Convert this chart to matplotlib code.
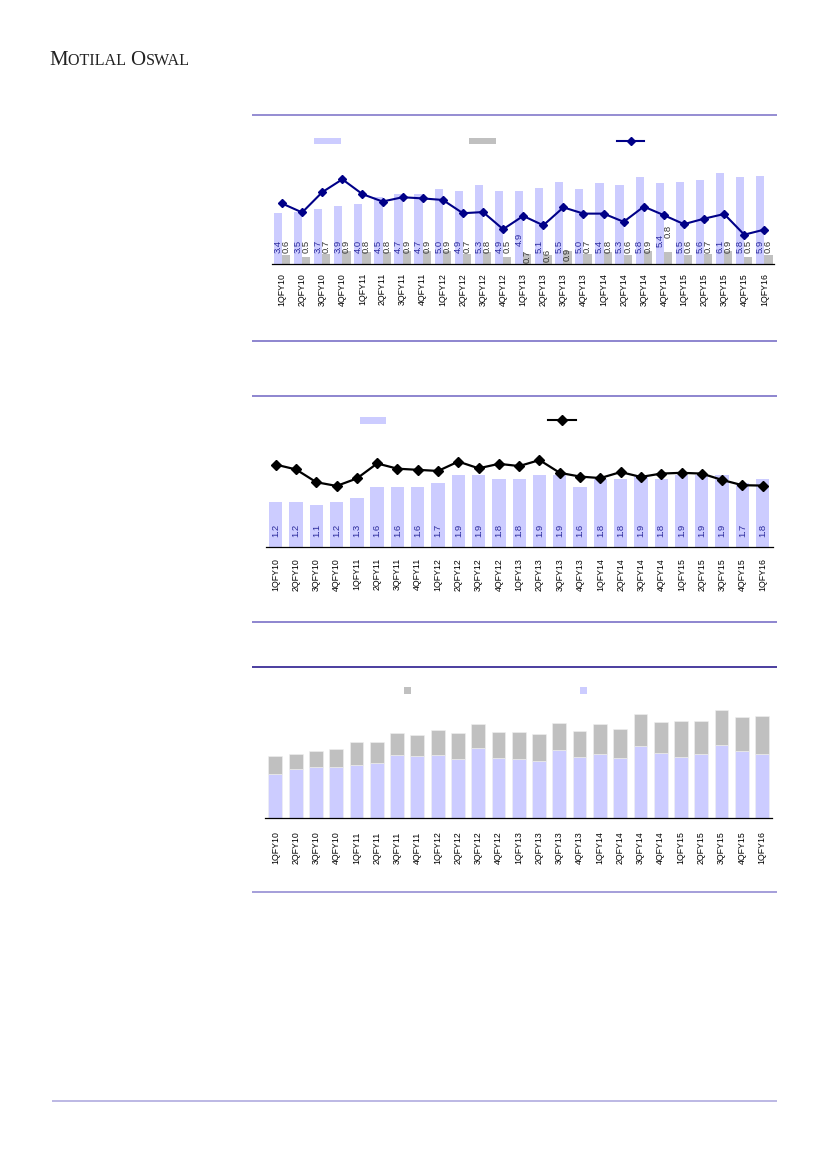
import matplotlib
matplotlib.use("Agg")
import matplotlib.pyplot as plt
from matplotlib.lines import Line2D
from matplotlib.patches import Rectangle

plt.rcParams['font.family'] = ['Liberation Sans', 'DejaVu Sans']

# ---------------------------------------------------------------- datos
trimestres = ['1QFY10', '2QFY10', '3QFY10', '4QFY10', '1QFY11', '2QFY11', '3QFY11',
              '4QFY11', '1QFY12', '2QFY12', '3QFY12', '4QFY12', '1QFY13', '2QFY13',
              '3QFY13', '4QFY13', '1QFY14', '2QFY14', '3QFY14', '4QFY14', '1QFY15',
              '2QFY15', '3QFY15', '4QFY15', '1QFY16']

# grafico 1: barras azules, barras grises y linea (%)
ventas = [3.4, 3.5, 3.7, 3.9, 4.0, 4.5, 4.7, 4.7, 5.0, 4.9, 5.3, 4.9, 4.9,
          5.1, 5.5, 5.0, 5.4, 5.3, 5.8, 5.4, 5.5, 5.6, 6.1, 5.8, 5.9]
ebitda = [0.6, 0.5, 0.7, 0.9, 0.8, 0.8, 0.9, 0.9, 0.9, 0.7, 0.8, 0.5, 0.7,
          0.6, 0.9, 0.7, 0.8, 0.6, 0.9, 0.8, 0.6, 0.7, 0.9, 0.5, 0.6]
margen = [16.8, 14.5, 19.7, 23.0, 19.2, 17.3, 18.4, 18.1, 17.7, 14.3, 14.6, 10.2, 13.6,
          11.2, 15.8, 14.2, 14.2, 12.1, 16.0, 13.8, 11.5, 12.9, 14.1, 8.8, 10.1]

# grafico 2: barras y linea
barras2 = [1.2, 1.2, 1.1, 1.2, 1.3, 1.6, 1.6, 1.6, 1.7, 1.9, 1.9, 1.8, 1.8,
           1.9, 1.9, 1.6, 1.8, 1.8, 1.9, 1.8, 1.9, 1.9, 1.9, 1.7, 1.8]
linea2 = [2.19, 2.06, 1.72, 1.62, 1.82, 2.22, 2.08, 2.05, 2.02, 2.27, 2.09, 2.21, 2.15,
          2.31, 1.97, 1.87, 1.83, 1.99, 1.86, 1.95, 1.97, 1.95, 1.78, 1.64, 1.63]

# grafico 3: barras apiladas (azul abajo, gris arriba)
apilada_azul = [4.40, 4.93, 5.10, 5.13, 5.33, 5.50, 6.33, 6.23, 6.33, 5.93, 7.03, 6.00, 5.93,
                5.73, 6.83, 6.13, 6.40, 6.00, 7.23, 6.53, 6.13, 6.40, 7.33, 6.73, 6.40]
apilada_gris = [1.80, 1.53, 1.63, 1.80, 2.27, 2.10, 2.17, 2.13, 2.50, 2.63, 2.37, 2.63, 2.67,
                2.67, 2.73, 2.57, 3.06, 2.93, 3.17, 3.10, 3.60, 3.30, 3.50, 3.37, 3.80]

AZUL = '#ccccff'
GRIS = '#c0c0c0'
AZUL_TXT = '#2a2a9c'

W, H = 827, 1169
fig = plt.figure(figsize=(8.27, 11.69), dpi=100)


def ejes_px(izq, arriba, der, abajo):
    # crea unos ejes a partir de coordenadas en pixeles
    return fig.add_axes([izq / W, 1 - abajo / H, (der - izq) / W, (abajo - arriba) / H])


def linea_h(y, x0, x1, color, lw=1.1):
    fig.add_artist(Line2D([x0 / W, x1 / W], [1 - y / H, 1 - y / H], color=color, lw=lw,
                          transform=fig.transFigure, solid_capstyle='butt'))


def caja_leyenda(x0, y0, x1, y1, color):
    fig.add_artist(Rectangle((x0 / W, 1 - y1 / H), (x1 - x0) / W, (y1 - y0) / H,
                             facecolor=color, edgecolor='none', transform=fig.transFigure))


def linea_leyenda(x0, x1, y, color, ms):
    fig.add_artist(Line2D([x0 / W, x1 / W], [1 - y / H, 1 - y / H], color=color, lw=1.5,
                          transform=fig.transFigure))
    fig.add_artist(Line2D([(x0 + x1) / 2 / W], [1 - y / H], color=color, marker='D', ms=ms,
                          transform=fig.transFigure))


def estilo(ax, pad):
    for s in ['top', 'left', 'right']:
        ax.spines[s].set_visible(False)
    ax.spines['bottom'].set_linewidth(0.9)
    ax.spines['bottom'].set_color('black')
    ax.set_yticks([])
    ax.set_xticks(range(len(trimestres)))
    ax.set_xticklabels(trimestres, rotation=90, fontsize=6.3)
    ax.tick_params(axis='x', length=0, pad=pad)
    ax.set_xlim(-0.5, len(trimestres) - 0.5)
    ax.patch.set_alpha(0)


x = list(range(len(trimestres)))

# ---------------------------------------------------------------- cabecera (versalitas a mano)
renderer = fig.canvas.get_renderer()
xpos = 49
for trozo, tam in [('M', 15), ('OTILAL ', 11.6), ('O', 15), ('SWAL', 11.6)]:
    t = fig.text(xpos / W, 1 - 65 / H, trozo, family='Liberation Serif', fontsize=tam,
                 color='#222222', va='baseline', ha='left')
    xpos += t.get_window_extent(renderer).width + 0.6

# ---------------------------------------------------------------- grafico 1
linea_h(115, 252, 777, '#8c84cf', 1.3)
linea_h(341, 252, 777, '#6f65c2', 1.1)

ax1 = ejes_px(272, 125, 774.4, 264)
ax1.bar([i - 0.205 for i in x], ventas, width=0.41, color=AZUL)
ax1.bar([i + 0.205 for i in x], ebitda, width=0.41, color=GRIS)
ax1.set_ylim(0, 139 / 15)
estilo(ax1, 6.5)

# desplazamiento de las etiquetas (puntos) respecto a la base
desp_azul = [8] * len(x)
desp_gris = [8] * len(x)
desp_azul[12] = 13
desp_gris[12] = 1
desp_gris[13] = 1.5
desp_gris[14] = 2
desp_azul[19] = 12.5
desp_gris[19] = 19
for i in x:
    ax1.annotate(f'{ventas[i]:.1f}', xy=(i - 0.205, 0), xytext=(0, desp_azul[i]),
                 textcoords='offset points', rotation=90, ha='center', va='bottom',
                 fontsize=6.8, color=AZUL_TXT)
    ax1.annotate(f'{ebitda[i]:.1f}', xy=(i + 0.205, 0), xytext=(0, desp_gris[i]),
                 textcoords='offset points', rotation=90, ha='center', va='bottom',
                 fontsize=6.8, color='#333333')

ax1b = ax1.twinx()
ax1b.plot(x, margen, color='#000088', lw=1.5, marker='D', ms=3.6)
ax1b.set_ylim((269 - 264) / 3.9, (269 - 125) / 3.9)
ax1b.axis('off')

caja_leyenda(314, 137.5, 341, 144, AZUL)
caja_leyenda(469, 137.5, 496, 144, GRIS)
linea_leyenda(617, 644, 140.7, '#000088', 3.6)

# ---------------------------------------------------------------- grafico 2
linea_h(396, 252, 777, '#6f65c2', 1.1)
linea_h(622, 252, 777, '#6f65c2', 1.1)

ax2 = ejes_px(265.6, 430, 772.8, 546.7)
ax2.bar(x, barras2, width=0.66, color=AZUL)
ax2.set_ylim(0, (546.7 - 430) / 37.5)
estilo(ax2, 8)
for i in x:
    ax2.annotate(f'{barras2[i]:.1f}', xy=(i, 0), xytext=(0, 7.3),
                 textcoords='offset points', rotation=90, ha='center', va='bottom',
                 fontsize=6.8, color=AZUL_TXT)

ax2b = ax2.twinx()
ax2b.plot(x, linea2, color='black', lw=1.6, marker='D', ms=4.6)
ax2b.set_ylim(ax2.get_ylim())
ax2b.axis('off')

caja_leyenda(359.5, 416.7, 386, 423.7, AZUL)
linea_leyenda(547.7, 575.7, 420, 'black', 4.6)

# ---------------------------------------------------------------- grafico 3
linea_h(666.5, 252, 777, '#1a0a85', 1.1)
linea_h(892, 252, 777, '#8c84cf', 1.1)

ax3 = ejes_px(265.2, 690, 772.3, 818.3)
ax3.bar(x, apilada_azul, width=0.68, color=AZUL, edgecolor='#f0f0f0', lw=0.4)
ax3.bar(x, apilada_gris, bottom=apilada_azul, width=0.68, color=GRIS, edgecolor='#f0f0f0', lw=0.4)
ax3.set_ylim(0, 12.83)
estilo(ax3, 9.5)

caja_leyenda(404.3, 686.7, 411.3, 693.7, GRIS)
caja_leyenda(579.5, 686.7, 586.5, 693.7, AZUL)

# ---------------------------------------------------------------- pie
linea_h(1101, 52, 777, '#a9a4dc', 1.1)

fig.savefig('out.png', dpi=100)
